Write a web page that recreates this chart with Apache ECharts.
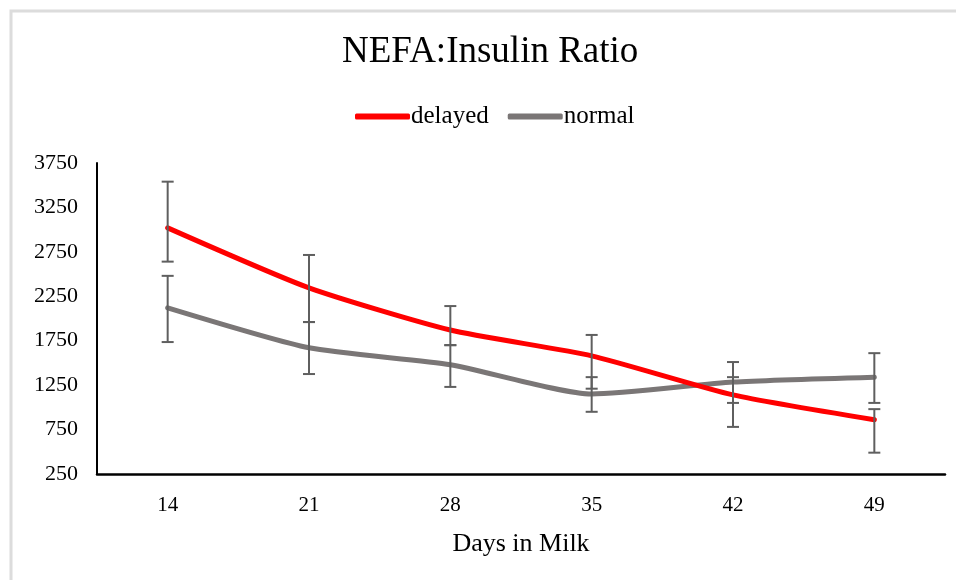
<!DOCTYPE html>
<html>
<head>
<meta charset="utf-8">
<script src="https://cdn.jsdelivr.net/npm/echarts@6/dist/echarts.min.js"></script>
<style>
  html, body { margin: 0; padding: 0; background: #fff; }
  #chart { width: 956px; height: 580px; }
</style>
</head>
<body>
<div id="chart"></div>
<script>
// data
var days = ['14', '21', '28', '35', '42', '49'];
var delayed = [3020, 2345, 1870, 1580, 1140, 860];
var delayedLow = [2640, 1960, 1700, 1210, 780, 490];
var delayedHigh = [3540, 2715, 2140, 1815, 1340, 980];
var normal = [2120, 1670, 1480, 1150, 1285, 1340];
var normalLow = [1735, 1375, 1230, 950, 1050, 1050];
var normalHigh = [2480, 1960, 1700, 1340, 1510, 1610];

var serif = '"Liberation Serif", "DejaVu Serif", serif';

function errData(low, high) {
    return days.map(function (d, i) { return [i, low[i], high[i]]; });
}

// error bar: vertical line with caps
function renderErr(params, api) {
    var x = api.coord([api.value(0), api.value(1)])[0];
    var lo = api.coord([api.value(0), api.value(1)])[1];
    var hi = api.coord([api.value(0), api.value(2)])[1];
    var half = 6;
    var style = { stroke: '#5f5f5f', lineWidth: 2 };
    return {
        type: 'group',
        children: [
            { type: 'line', shape: { x1: x, y1: lo, x2: x, y2: hi }, style: style },
            { type: 'line', shape: { x1: x - half, y1: lo, x2: x + half, y2: lo }, style: style },
            { type: 'line', shape: { x1: x - half, y1: hi, x2: x + half, y2: hi }, style: style }
        ]
    };
}

var chart = echarts.init(document.getElementById('chart'));

var option = {
    animation: false,
    title: {
        text: 'NEFA:Insulin Ratio',
        left: 337,
        top: 29,
        textStyle: { fontFamily: serif, fontSize: 37, fontWeight: 'normal', color: '#000' }
    },
    legend: {
        top: 99,
        left: 350,
        itemWidth: 55,
        itemHeight: 6,
        itemGap: 19,
        icon: 'roundRect',
        textStyle: { fontFamily: serif, fontSize: 25, color: '#000', padding: [0, 0, 0, -4] },
        data: ['delayed', 'normal']
    },
    graphic: [{
        type: 'polyline',
        shape: { points: [[11, 580], [11, 11], [956, 11]] },
        style: { stroke: '#dcdcdc', lineWidth: 3, fill: null }
    }],
    grid: { left: 97, right: 11, top: 163, bottom: 106 },
    xAxis: {
        type: 'category',
        data: days,
        boundaryGap: true,
        name: 'Days in Milk',
        nameLocation: 'middle',
        nameGap: 57,
        nameTextStyle: { fontFamily: serif, fontSize: 26, color: '#000' },
        axisLine: { lineStyle: { color: '#000', width: 2.5 } },
        axisTick: { show: false },
        axisLabel: { fontFamily: serif, fontSize: 21, color: '#000', margin: 21 }
    },
    yAxis: {
        type: 'value',
        min: 250,
        max: 3750,
        interval: 500,
        axisLine: { show: true, lineStyle: { color: '#000', width: 2 } },
        axisTick: { show: false },
        splitLine: { show: false },
        axisLabel: {
            fontFamily: serif, fontSize: 22, color: '#000', margin: 19,
            formatter: function (v) { return String(v); }
        }
    },
    series: [
        {
            name: 'delayed',
            type: 'line',
            data: delayed,
            smooth: 0.2,
            showSymbol: false,
            symbol: 'none',
            lineStyle: { color: '#ff0000', width: 5, cap: 'round' },
            itemStyle: { color: '#ff0000' },
            z: 3
        },
        {
            name: 'normal',
            type: 'line',
            data: normal,
            smooth: 0.2,
            showSymbol: false,
            symbol: 'none',
            lineStyle: { color: '#7a7676', width: 5, cap: 'round' },
            itemStyle: { color: '#7a7676' },
            z: 2
        },
        {
            type: 'custom',
            renderItem: renderErr,
            data: errData(delayedLow, delayedHigh),
            z: 4,
            silent: true
        },
        {
            type: 'custom',
            renderItem: renderErr,
            data: errData(normalLow, normalHigh),
            z: 4,
            silent: true
        }
    ]
};

chart.setOption(option);
</script>
</body>
</html>
